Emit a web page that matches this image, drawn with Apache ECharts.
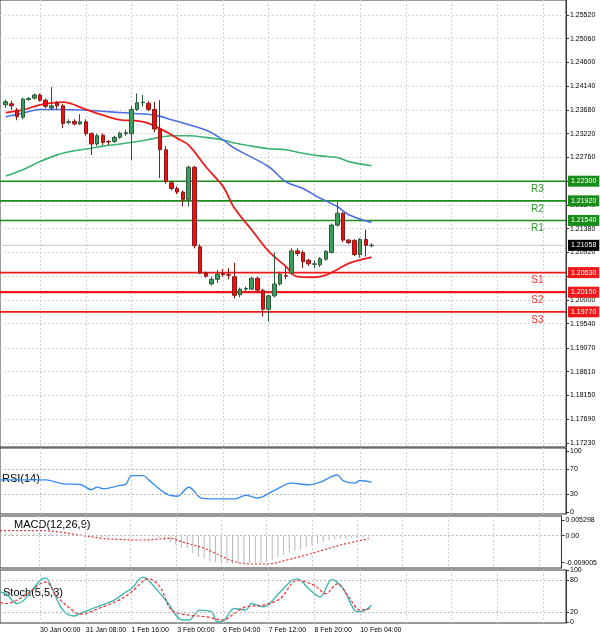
<!DOCTYPE html>
<html><head><meta charset="utf-8">
<script src="https://cdn.jsdelivr.net/npm/echarts@6/dist/echarts.min.js"></script>
<style>html,body{margin:0;padding:0;background:#fff}#c{width:600px;height:640px}</style>
</head><body><div id="c"></div>
<script>
// ---- data ----
const timeLabels = ["27 Jan 20:00","30 Jan 00:00","31 Jan 08:00","1 Feb 16:00","3 Feb 00:00","6 Feb 04:00","7 Feb 12:00","8 Feb 20:00","10 Feb 04:00"];
const candleStart = 2;
// [open, close, low, high]
const candles = [
[1.2378,1.2384,1.2372,1.2388],[1.2380,1.2376,1.2368,1.2386],[1.2368,1.2355,1.2348,1.2372],[1.2354,1.2389,1.2350,1.2392],
[1.2388,1.2390,1.2386,1.2393],[1.2391,1.2397,1.2388,1.2400],[1.2397,1.2387,1.2384,1.2400],[1.2387,1.2375,1.2371,1.2390],
[1.2372,1.2376,1.2368,1.2413],[1.2382,1.2376,1.2370,1.2385],[1.2376,1.2342,1.2333,1.2380],[1.2344,1.2345,1.2340,1.2350],
[1.2346,1.2341,1.2338,1.2350],[1.2341,1.2345,1.2339,1.2360],[1.2345,1.2322,1.2318,1.2350],[1.2322,1.2302,1.2281,1.2325],
[1.2302,1.2318,1.2298,1.2322],[1.2319,1.2305,1.2300,1.2323],[1.2307,1.2306,1.2300,1.2310],[1.2307,1.2315,1.2304,1.2318],
[1.2315,1.2323,1.2312,1.2326],[1.2322,1.2324,1.2318,1.2330],[1.2322,1.2369,1.2271,1.2375],[1.2369,1.2382,1.2366,1.2400],
[1.2382,1.2383,1.2375,1.2397],[1.2381,1.2369,1.2366,1.2385],[1.2369,1.2331,1.2325,1.2384],[1.2331,1.2291,1.2236,1.2387],
[1.2291,1.2229,1.2225,1.2298],[1.2227,1.2216,1.2212,1.2230],[1.2216,1.2209,1.2205,1.2220],[1.2209,1.2195,1.2181,1.2212],
[1.2195,1.2257,1.2181,1.2260],[1.2257,1.2105,1.2100,1.2260],[1.2103,1.2052,1.2050,1.2108],[1.2052,1.2046,1.2043,1.2055],
[1.2031,1.2040,1.2028,1.2045],[1.2040,1.2050,1.2033,1.2058],[1.2051,1.2049,1.2045,1.2060],[1.2049,1.2048,1.2040,1.2062],
[1.2045,1.2009,1.2003,1.2072],[1.2010,1.2021,1.2005,1.2024],[1.2021,1.2022,1.2017,1.2026],[1.2021,1.2042,1.2019,1.2045],
[1.2042,1.2019,1.2015,1.2045],[1.2019,1.1982,1.1968,1.2022],[1.1982,1.2008,1.1958,1.2010],[1.2008,1.2031,1.2005,1.2092],
[1.2031,1.2050,1.2028,1.2055],[1.2047,1.2046,1.2040,1.2065],[1.2052,1.2095,1.2048,1.2100],[1.2095,1.2090,1.2085,1.2100],
[1.2092,1.2074,1.2062,1.2096],[1.2077,1.2070,1.2066,1.2080],[1.2069,1.2070,1.2062,1.2076],[1.2068,1.2080,1.2064,1.2083],
[1.2079,1.2094,1.2076,1.2097],[1.2092,1.2145,1.2090,1.2148],[1.2145,1.2168,1.2142,1.2190],[1.2168,1.2116,1.2112,1.2170],
[1.2116,1.2111,1.2108,1.2118],[1.2115,1.2088,1.2085,1.2118],[1.2088,1.2117,1.2082,1.2120],[1.2117,1.2106,1.2084,1.2136],
[1.2105,1.2106,1.2102,1.2110]];
const maRed = [[2,1.2363],[5,1.2368],[8,1.2378],[12,1.2383],[16,1.2369],[19,1.2358],[22,1.2349],[25,1.2347],[27,1.2342],[30,1.2326],[32,1.2313],[34,1.2300],[37,1.2258],[40,1.2220],[42,1.2178],[45,1.2136],[48,1.2094],[51,1.2065],[53,1.2045],[56,1.2044],[58,1.2048],[60,1.2059],[62,1.2071],[66,1.2083]];
const maBlue = [[2,1.2355],[5,1.2362],[8,1.2369],[11,1.2369],[17,1.2367],[22,1.2363],[28,1.2358],[31,1.2349],[37,1.2329],[40,1.2310],[42,1.2294],[48,1.2258],[51,1.2229],[54,1.2216],[57,1.2197],[60,1.2181],[62,1.2165],[66,1.2150]];
const maGreen = [[2,1.2240],[5,1.2252],[8,1.2268],[11,1.2281],[14,1.2289],[17,1.2294],[19,1.2298],[22,1.2302],[25,1.2307],[28,1.2313],[31,1.2318],[34,1.2318],[37,1.2315],[40,1.2310],[42,1.2304],[45,1.2298],[48,1.2293],[51,1.2291],[54,1.2284],[57,1.2279],[60,1.2276],[62,1.2268],[66,1.2260]];
const levelNames = ["R3","R2","R1","S1","S2","S3"];
const levelValues = [1.2230,1.2192,1.2154,1.2053,1.2015,1.1977];
const lastPrice = 1.21058;
const priceTicks = [1.17230,1.17690,1.18150,1.18610,1.19070,1.19540,1.20000,1.20460,1.20920,1.21380,1.21840,1.22300,1.22760,1.23220,1.23680,1.24140,1.24600,1.25060,1.25520];
const rsi = [[1,52.9],[2,52.9],[5,52.9],[9,52.9],[12,46.5],[15,45.5],[17,37],[18,41.2],[19,38.5],[22,43.9],[23,45.5],[24,59.9],[26,59.9],[27,52.9],[30,30.5],[32,26.3],[34,41],[36,24.1],[37,22.5],[42,22],[44,27.9],[46,23.6],[49,35.9],[52,47.6],[55,44.9],[57,49.2],[60,60.9],[61,51.8],[63,47.6],[64,51.8],[66,49.2]];
const rsiTicks = [0,30,70,100];
const macdHist = [0.0008,0.0008,0.0007,0.0008,0.0008,0.0009,0.0009,0.0008,0.0008,
0.0007,0.0005,0.0003,0.0002,0.0001,-0.0001,-0.0003,-0.0004,-0.0004,-0.0004,
-0.0003,-0.0003,-0.0002,0.0001,0.0002,0.0002,0.0000,-0.0003,-0.0008,
-0.0014,-0.0022,-0.0030,-0.0040,-0.0042,-0.0058,-0.0070,-0.0078,-0.0084,-0.0088,
-0.0091,-0.0092,-0.0094,-0.0093,-0.0093,-0.0092,-0.0092,-0.0092,-0.0087,-0.0080,
-0.0070,-0.0064,-0.0056,-0.0050,-0.0044,-0.0037,-0.0032,-0.0026,-0.0021,-0.0015,
-0.0010,-0.0010,-0.0009,-0.0008,-0.0006,-0.0004,-0.0003];
const macdSignal = [[1,0.00167],[2,0.00167],[8,0.00167],[11,0.00133],[15,0.00022],[19,-0.00089],[22,-0.00122],[26,-0.00144],[29,-0.00111],[31,-0.00089],[33,-0.0020],[37,-0.00422],[40,-0.00678],[42,-0.00844],[45,-0.00944],[48,-0.00944],[52,-0.00789],[55,-0.00644],[58,-0.00478],[61,-0.00311],[66,-0.0010]];
const macdTicks = [-0.009005,0,0.005298];
const stochMain = [[1,58],[2,54.7],[4,35.8],[9,85],[10,67.3],[12,23.2],[14,11.8],[15,16.8],[18,29.5],[21,42.1],[23,57.9],[24,64.2],[26,86.3],[27,80],[30,42.1],[33,4.2],[34,4.2],[36,23.2],[38,20],[39,1.1],[40,2.3],[42,26.3],[44,23.2],[45,35.8],[47,29.5],[50,57.9],[52,80],[53,83],[55,64.2],[57,48.4],[59,81.2],[61,64.2],[63,23.2],[64,20],[66,32.6]];
const stochSignal = [[1,38],[2,35.8],[5,48.4],[9,76.8],[11,48.4],[14,20],[15,15.6],[19,29.5],[22,43.3],[24,57.9],[27,83.1],[29,67.3],[31,23.2],[34,13.7],[37,10.5],[40,4.2],[42,16.8],[44,29.5],[47,32.6],[50,45.2],[53,80],[56,70.5],[58,54.7],[60,73.6],[62,48.4],[64,23.2],[66,26.3]];
const stochTicks = [0,20,80,100];

// ---- build ----
const SHIFT = 1;          // first visible bar index (bar indices above are counted from the "27 Jan 20:00" bar)
const M = 100;            // category slots across the plot (index SHIFT .. )
const W = 566;
const cats = Array.from({length:M},(_,k)=>{const i=k+SHIFT; return (i%8===0 && i/8 < timeLabels.length) ? timeLabels[i/8] : ('b'+i);});
const sh = pts => pts.map(p=>[p[0]-SHIFT,p[1]]);
const pad = Array(candleStart-SHIFT).fill('-');
const FONT = 'Liberation Sans';
const grids = [
  {left:-5.7,right:34,top:0,height:447},
  {left:-5.7,right:34,top:448,height:66},
  {left:-5.7,right:34,top:516,height:52},
  {left:-5.7,right:34,top:570,height:53}
].map(g=>Object.assign(g,{show:true,borderColor:'#333',borderWidth:1,backgroundColor:'#fff'}));
const xAxes = grids.map((g,k)=>({type:'category',gridIndex:k,data:cats,boundaryGap:false,
  axisLine:{show:false},axisTick:{show:false},
  axisLabel:{show:k===3,interval:(i,v)=>!v.startsWith('b'),align:'left',fontSize:7,fontFamily:FONT,color:'#000',margin:4},
  splitLine:{show:true,interval:(i)=>(i+SHIFT)%8===0,lineStyle:{color:'#d0d0d0',type:[2,2]}}}));
function yax(k,min,max,ticks,fmt){return {type:'value',gridIndex:k,position:'right',min,max,scale:true,
  axisLine:{show:true,lineStyle:{color:'#333'}},
  axisTick:{show:true,length:3,customValues:ticks,lineStyle:{color:'#333'}},
  axisLabel:{customValues:ticks,formatter:fmt,fontSize:7,fontFamily:FONT,color:'#000',margin:4},
  splitLine:{show:k===0,lineStyle:{color:'#d8d8d8',type:[2,2]}}};}
const yAxes = [
  yax(0,1.17152,1.25810,priceTicks,v=>v.toFixed(5)),
  yax(1,-2.5,104.7,rsiTicks,v=>String(Math.round(v))),
  yax(2,-0.01077,0.00657,macdTicks,v=>v===0?'0.00':String(v)),
  yax(3,-1.5,100,stochTicks,v=>String(Math.round(v)))
];
const greenL='#1a8c1a', redL='#f01818';
function levelSeries(name,value,color,width,boxColor,tagColor){
  const data=[[0,value]];
  if(tagColor) data.push({value:[94,value],label:{show:true,position:'bottom',distance:3,formatter:name,color:tagColor,fontSize:10,fontFamily:FONT}});
  data.push([M-1,value]);
  return {type:'line',xAxisIndex:0,yAxisIndex:0,data,silent:true,showSymbol:true,symbol:'circle',symbolSize:0,
    lineStyle:{color,width},itemStyle:{color},label:{show:false},z:1,
    endLabel:{show:true,formatter:value.toFixed(5),backgroundColor:boxColor,color:'#fff',fontSize:7,fontFamily:FONT,padding:[2,3],distance:2}};
}
const levelSeriesList = levelNames.map((n,i)=>{
  const isR=n[0]==='R';
  return levelSeries(n,levelValues[i],isR?greenL:redL,n==='S2'?2.2:1.6,isR?greenL:redL,isR?'#2a9a2a':'#f03030');
});
levelSeriesList.push(levelSeries('',lastPrice,'#c8c8c8',1,'#000',null));
const dashML = (vals)=>({silent:true,symbol:'none',label:{show:false},lineStyle:{color:'#b8b8b8',type:[2,2],width:1},data:vals.map(v=>({yAxis:v}))});
const line=(data,color,x,opts)=>Object.assign({type:'line',xAxisIndex:x,yAxisIndex:x,data:sh(data),smooth:0.35,showSymbol:false,connectNulls:true,silent:true,z:3,lineStyle:{color,width:1.4}},opts||{});
const option={animation:false,grid:grids,xAxis:xAxes,yAxis:yAxes,
 series:levelSeriesList.concat([
  {type:'candlestick',xAxisIndex:0,yAxisIndex:0,data:pad.concat(candles),barWidth:4,z:4,
   itemStyle:{color:'#3c9c5c',color0:'#ee1111',borderColor:'#2c5a3a',borderColor0:'#8a1a1a',borderWidth:1}},
  line(maGreen,'#3cb371',0,{lineStyle:{color:'#3cb371',width:1.6}}),
  line(maBlue,'#4a6ee0',0,{lineStyle:{color:'#4a6ee0',width:1.6}}),
  line(maRed,'#ee1c1c',0,{lineStyle:{color:'#ee1c1c',width:1.8}}),
  line(rsi,'#3a8ef0',1,{markLine:dashML([30,70])}),
  {type:'bar',xAxisIndex:2,yAxisIndex:2,data:pad.concat(macdHist),barWidth:1,itemStyle:{color:'#b8b8b8'},silent:true,markLine:dashML([0])},
  line(macdSignal,'#e83030',2,{lineStyle:{color:'#e83030',width:1.2,type:[2,2]}}),
  line(stochMain,'#3fb8b0',3,{markLine:dashML([20,80])}),
  line(stochSignal,'#ee3030',3,{lineStyle:{color:'#ee3030',width:1.2,type:[3,2]}})
 ]),
 graphic:[
  {type:'text',left:2,top:473,style:{text:'RSI(14)',font:'11px "Liberation Sans"',fill:'#000',backgroundColor:'rgba(255,255,255,0.6)'}},
  {type:'text',left:14,top:519,style:{text:'MACD(12,26,9)',font:'11px "Liberation Sans"',fill:'#000'}},
  {type:'text',left:3,top:587,style:{text:'Stoch(5,5,3)',font:'11px "Liberation Sans"',fill:'#000'}}
 ]};
const ch=echarts.init(document.getElementById('c'));
ch.setOption(option);
</script></body></html>
